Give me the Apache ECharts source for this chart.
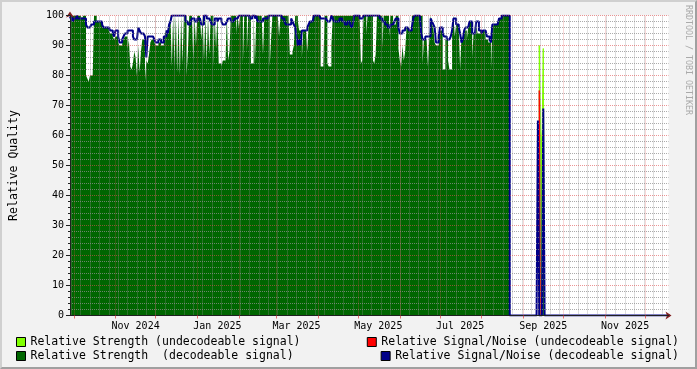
<!DOCTYPE html>
<html><head><meta charset="utf-8">
<script src="https://cdn.jsdelivr.net/npm/echarts@6/dist/echarts.min.js"></script>
<style>
html,body{margin:0;padding:0;background:#F2F2F2;}
#c{position:absolute;left:0;top:0;width:697px;height:369px;}
#f{position:absolute;left:0;top:0;width:697px;height:369px;box-sizing:border-box;border-top:2px solid #D0D0D0;border-left:2px solid #D0D0D0;border-right:2px solid #A0A0A0;border-bottom:2px solid #A0A0A0;pointer-events:none;}
</style>
</head><body><div id="c"></div><div id="f"></div>
<script>
// ---- data (one value per day, day 0 = 2024-09-28) ----
const firstDay = '2024-09-28';
const strengthDecodeable = [
100,100,100,100,100,100,100,100,100,99,
100,100,80,79,78,80,80,80,100,100,
98,98,98,98,97,96,96,96,96,95,
94,94,93,92,93,93,91,90,90,91,
92,93,93,89,92,83,82,84,88,86,
80,90,81,88,92,92,78,85,84,87,
91,92,92,91,90,90,91,91,90,90,
92,94,95,95,96,100,83,100,83,100,
81,100,80,100,84,100,100,80,88,100,
100,100,85,100,90,100,100,100,92,100,
85,100,84,100,87,100,100,83,100,89,
100,84,84,83,85,85,84,100,85,88,
100,100,100,100,94,100,96,100,100,84,
100,100,88,100,100,84,84,100,84,100,
100,100,100,100,87,100,100,100,100,83,
92,100,100,100,100,100,93,100,100,100,
100,100,100,100,87,87,88,90,100,100,
98,95,95,86,95,95,95,88,97,98,
98,100,100,100,100,100,100,83,83,84,
100,100,84,83,83,90,100,100,100,100,
100,100,100,100,100,100,100,100,100,100,
100,100,100,100,100,100,100,84,85,100,
100,94,100,100,100,100,85,84,87,100,
100,100,100,89,100,100,100,100,93,100,
100,97,97,100,100,89,85,83,90,85,
88,96,96,95,95,100,100,100,100,100,
100,100,100,84,92,92,92,83,92,100,
97,96,91,90,90,92,95,95,82,82,
92,92,85,82,82,95,100,93,97,97,
96,82,93,92,95,95,92,96,98,98,
86,94,94,97,94,94,95,95,95,95,
92,92,91,91,82,96,97,97,97,98,
99,99,100,100,100,100,100,100,
// after data loss (days 328..360)
0,0,0,0,0,0,0,0,0,0,0,0,0,0,0,0,0,0,0,0,0,0,78,0,0,73,0,0,0,0,0,0,0
];
const snrDecodeable = [
99,100,98,99,99,100,99,99,99,99,
99,99,97,96,96,96,97,97,98,98,
98,98,98,98,97,96,96,96,96,96,
95,95,94,93,95,95,93,91,91,92,
93,94,94,95,95,95,95,93,92,92,
92,96,95,94,94,94,93,86,93,93,
93,93,93,92,91,91,92,92,91,91,
93,93,95,94,97,98,100,100,100,100,
100,100,100,100,100,100,98,98,97,97,
98,99,99,98,98,99,99,99,97,97,
100,100,99,99,99,98,97,97,99,99,
98,99,99,98,97,97,97,98,99,99,
98,98,98,99,99,99,100,100,100,100,
100,100,100,100,99,99,100,100,99,100,
98,98,98,98,99,99,99,99,100,100,
100,100,100,100,100,100,100,100,99,99,
98,97,97,97,97,99,98,97,96,93,
90,92,90,95,95,95,95,96,97,98,
98,98,100,100,100,100,100,99,99,99,
99,99,98,98,98,100,99,98,98,98,
98,99,99,98,98,97,97,98,98,97,
96,97,100,100,100,100,99,99,99,100,
100,100,100,100,100,100,100,100,100,100,
100,99,99,98,98,97,97,96,96,97,
97,97,98,99,99,96,94,94,95,95,
96,96,96,95,95,96,99,100,100,100,
100,100,94,92,92,93,93,93,93,99,
98,97,96,91,91,93,96,96,94,93,
93,92,92,92,93,95,99,99,97,97,
96,94,91,92,95,96,96,96,98,98,
94,94,94,98,98,95,95,94,95,95,
95,93,93,92,91,97,97,97,97,97,
99,99,100,100,100,100,100,100,
0,0,0,0,0,0,0,0,0,0,0,0,0,0,0,0,0,0,0,0,0,65,0,0,0,69,0,0,0,0,0,0,0
];
const undecodeableStrengthDays = [171, 350, 351, 352, 353];
const undecodeableStrength     = [100, 90, 62, 57, 89];
const undecodeableSnrDays = [350];
const undecodeableSnr     = [75];
const dataLossDay = 328;

const xTickLabels = ['Nov 2024','Jan 2025','Mar 2025','May 2025','Jul 2025','Sep 2025','Nov 2025'];
const xTickDates  = ['2024-11-16','2025-01-16','2025-03-16','2025-05-16','2025-07-16','2025-09-16','2025-11-16'];
const yTicks = [0,10,20,30,40,50,60,70,80,90,100];

const seriesNames = [
  'Relative Strength (undecodeable signal)',
  'Relative Strength  (decodeable signal)',
  'Relative Signal/Noise (undecodeable signal)',
  'Relative Signal/Noise (decodeable signal)'
];

// ---- build ----
const DAY = 86400000;
const T0 = Date.parse(firstDay);
const X_MIN = T0 + 2 * 3600000;
const X_MAX = X_MIN + 446.3 * DAY;
const NDAYS = strengthDecodeable.length;
const FONT = 'DejaVu Sans Mono';

function daySeries(arr) {
  return arr.map((v, i) => [T0 + i * DAY, v]);
}
function sparseSeries(days, vals) {
  const a = new Array(NDAYS).fill(0);
  days.forEach((d, k) => { a[d] = vals[k]; });
  return daySeries(a);
}
const sData = daySeries(strengthDecodeable);
const nData = daySeries(snrDecodeable);
nData.push([X_MAX + DAY, 0]);
const suData = sparseSeries(undecodeableStrengthDays, undecodeableStrength);
const suTail = suData.slice(dataLossDay);
const nuData = sparseSeries(undecodeableSnrDays, undecodeableSnr);

// grid lines (rrdtool style, drawn on top of data)
const MINOR_H = {color:'rgba(143,143,143,0.75)', width:1, type:[1,1]};
const MAJOR_H = {color:'rgba(222,79,79,0.6)', width:1, type:[1,1]};
const MINOR_V = {color:'rgba(143,143,143,0.6)', width:1, type:[1,1]};
const MAJOR_V = {color:'rgba(222,79,79,0.45)', width:1, type:[1,1]};
const grid = [];
const sunday = Date.parse('2024-09-29');
for (let t = sunday; t < X_MAX; t += 7 * DAY) grid.push({xAxis: t, lineStyle: MINOR_V});
for (let v = 2; v < 100; v += 2) if (v % 10) grid.push({yAxis: v, lineStyle: MINOR_H});
const monthStarts = [];
for (let k = 0; ; k++) {
  const t = Date.UTC(2024, 9 + k, 1);
  if (t > X_MAX) break;
  monthStarts.push(t);
  grid.push({xAxis: t, lineStyle: MAJOR_V});
}
yTicks.forEach(v => { if (v > 0) grid.push({yAxis: v, lineStyle: MAJOR_H}); });

const labelVals = xTickDates.map(d => Date.parse(d));

const legendCommon = {
  icon: 'rect', itemWidth: 9, itemHeight: 9, itemGap: 0, padding: 0,
  selectedMode: false, orient: 'horizontal',
  itemStyle: {borderColor: '#000', borderWidth: 1},
  textStyle: {fontFamily: FONT, fontSize: 11.5, color: '#000'}
};

const chart = echarts.init(document.getElementById('c'), null, {renderer: 'canvas'});
chart.setOption({
  animation: false,
  backgroundColor: '#F2F2F2',
  grid: {left: 66.5, right: 28.5, top: 15.5, bottom: 53.5, show: true, backgroundColor: '#FFFFFF', borderWidth: 0, containLabel: false},
  legend: [
    Object.assign({data: [seriesNames[0]], left: 16, top: 336}, legendCommon),
    Object.assign({data: [seriesNames[1]], left: 16, top: 350}, legendCommon),
    Object.assign({data: [seriesNames[2]], right: 18, top: 336}, legendCommon),
    Object.assign({data: [seriesNames[3]], right: 18, top: 350}, legendCommon)
  ],
  xAxis: [
    {
      type: 'value', min: X_MIN, max: X_MAX, position: 'bottom', z: 6, scale: true,
      axisLine: {show: true, onZero: false, lineStyle: {color: '#1F1F1F', width: 1}},
      axisTick: {show: true, customValues: monthStarts, length: 3, lineStyle: {color: 'rgba(222,79,79,0.8)'}},
      axisLabel: {
        customValues: labelVals, fontFamily: FONT, fontSize: 10, color: '#000', margin: 6,
        formatter: (v) => { const i = labelVals.indexOf(v); return i >= 0 ? xTickLabels[i] : ''; }
      },
      splitLine: {show: false}, minorTick: {show: false}
    },
    {
      type: 'value', min: X_MIN, max: X_MAX, position: 'bottom', z: 5, scale: true,
      axisLine: {show: true, onZero: false, symbol: ['none', 'arrow'], symbolSize: [6, 6], symbolOffset: [0, 3], lineStyle: {color: '#801F1F', width: 1}},
      axisTick: {show: false}, axisLabel: {show: false}, splitLine: {show: false}
    }
  ],
  yAxis: [
    {
      type: 'value', min: 0, max: 100, interval: 10, position: 'left', z: 6,
      name: 'Relative Quality', nameLocation: 'middle', nameGap: 50,
      nameTextStyle: {fontFamily: FONT, fontSize: 11.5, color: '#000'},
      axisLine: {show: true, onZero: false, lineStyle: {color: '#1F1F1F', width: 1}},
      axisTick: {show: true, length: 4, lineStyle: {color: '#1F1F1F'}},
      minorTick: {show: true, splitNumber: 5, length: 2, lineStyle: {color: '#1F1F1F'}},
      axisLabel: {fontFamily: FONT, fontSize: 10, color: '#000', margin: 6},
      splitLine: {show: false}
    },
    {
      type: 'value', min: 0, max: 100, position: 'left', z: 5,
      axisLine: {show: true, onZero: false, symbol: ['none', 'arrow'], symbolSize: [6, 6], symbolOffset: [0, 4], lineStyle: {color: '#801F1F', width: 1}},
      axisTick: {show: false}, axisLabel: {show: false}, splitLine: {show: false}
    }
  ],
  graphic: [{
    type: 'text', x: 688, y: 5, rotation: -Math.PI / 2, silent: true,
    style: {text: 'RRDTOOL / TOBI OETIKER', font: '8.3px "DejaVu Sans Mono"', fill: '#AAAAAA', textAlign: 'left', textVerticalAlign: 'middle'}
  }],
  series: [
    {name: seriesNames[0], type: 'line', step: 'end', data: suData, symbol: 'none', showSymbol: false, silent: true,
     color: '#80FF00', itemStyle: {color: '#80FF00'}, lineStyle: {width: 0}, areaStyle: {color: '#80FF00', opacity: 1}},
    {name: seriesNames[0], type: 'line', step: 'end', data: suTail, symbol: 'none', showSymbol: false, silent: true,
     color: '#80FF00', itemStyle: {color: '#80FF00'}, lineStyle: {width: 1, color: '#80FF00'}},
    {name: seriesNames[1], type: 'line', step: 'end', data: sData, symbol: 'none', showSymbol: false, silent: true,
     color: '#006600', itemStyle: {color: '#006600'}, lineStyle: {width: 0}, areaStyle: {color: '#006600', opacity: 1}},
    {name: seriesNames[2], type: 'line', step: 'end', data: nuData, symbol: 'none', showSymbol: false, silent: true,
     color: '#FF0000', itemStyle: {color: '#FF0000'}, lineStyle: {width: 1, color: '#FF0000'}},
    {name: seriesNames[3], type: 'line', step: 'end', data: nData, symbol: 'none', showSymbol: false, silent: true,
     color: '#000088', itemStyle: {color: '#000088'}, lineStyle: {width: 2, color: '#000088'}},
    {name: 'grid', type: 'line', data: [], silent: true,
     markLine: {silent: true, symbol: ['none', 'none'], animation: false, label: {show: false}, emphasis: {disabled: true}, data: grid}}
  ]
});
</script>
</body></html>
